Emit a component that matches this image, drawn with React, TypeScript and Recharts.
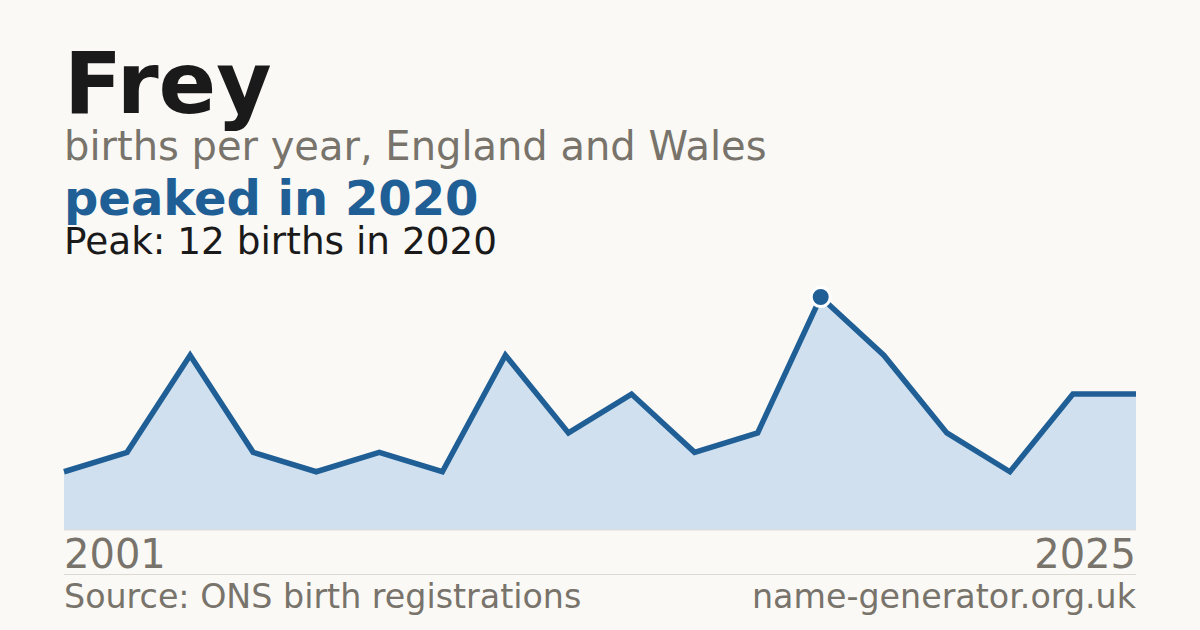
import React from "react";
import { AreaChart, Area, XAxis, YAxis } from "recharts";

const years = ["2001", "2004", "2006", "2008", "2009", "2011", "2012", "2013", "2015", "2016", "2017", "2019", "2020", "2021", "2022", "2023", "2024", "2025"];
const births = [3, 4, 9, 4, 3, 4, 3, 9, 5, 7, 4, 5, 12, 9, 5, 3, 7, 7];
const tickYears = ["2001", "2025"];

const data = years.map((y, i) => ({ year: y, births: births[i] }));
const peakValue = Math.max(...births);

const BG = "#faf9f5";
const BLUE = "#1f5f96";
const FILL = "#d0e0ef";
const GREY = "#78736b";
const FONT = "'DejaVu Sans', sans-serif";

const Tick = (props: any) => {
  const { x, y, payload } = props;
  const first = payload.value === tickYears[0];
  return (
    <text x={x} y={y} dy={30} textAnchor={first ? "start" : "end"} fill={GREY} fontSize={40} fontFamily={FONT}>
      {payload.value}
    </text>
  );
};

const PeakDot = (props: any) => {
  const { cx, cy, payload, index } = props;
  if (payload.births !== peakValue) return <g key={`d${index}`} />;
  return <circle key={`d${index}`} cx={cx} cy={cy} r={9.5} fill={BLUE} stroke="#ffffff" strokeWidth={3} />;
};

export default function App() {
  return (
    <div style={{ position: "absolute", left: 0, top: 0, width: 1200, height: 630, background: BG, overflow: "hidden" }}>
      <AreaChart width={1200} height={630} data={data} margin={{ top: 297, right: 64, bottom: 0, left: 64 }}>
        <XAxis
          dataKey="year"
          ticks={tickYears}
          interval={0}
          height={100}
          tickLine={false}
          axisLine={{ stroke: "#e0ddd6", strokeWidth: 1 }}
          tick={<Tick />}
        />
        <YAxis hide domain={[0, peakValue]} />
        <Area
          type="linear"
          dataKey="births"
          stroke={BLUE}
          strokeWidth={5.5}
          fill={FILL}
          fillOpacity={1}
          dot={<PeakDot />}
          activeDot={false}
          isAnimationActive={false}
        />
      </AreaChart>
      <svg width={1200} height={630} style={{ position: "absolute", left: 0, top: 0, pointerEvents: "none" }}>
        <text x={64} y={113} fontSize={85} fontWeight="bold" fill="#1a1a1a" fontFamily={FONT}>Frey</text>
        <text x={64} y={160} fontSize={40} fill={GREY} fontFamily={FONT}>births per year, England and Wales</text>
        <text x={64} y={215} fontSize={48} fontWeight="bold" fill={BLUE} fontFamily={FONT}>peaked in 2020</text>
        <text x={64} y={254} fontSize={37.4} fill="#1a1a1a" fontFamily={FONT}>Peak: 12 births in 2020</text>
        <line x1={64} x2={1136} y1={574.5} y2={574.5} stroke="#dcd9d2" strokeWidth={1} />
        <text x={64} y={608} fontSize={33.3} fill={GREY} fontFamily={FONT}>Source: ONS birth registrations</text>
        <text x={1136} y={608} fontSize={33.3} fill={GREY} fontFamily={FONT} textAnchor="end">name-generator.org.uk</text>
      </svg>
    </div>
  );
}
